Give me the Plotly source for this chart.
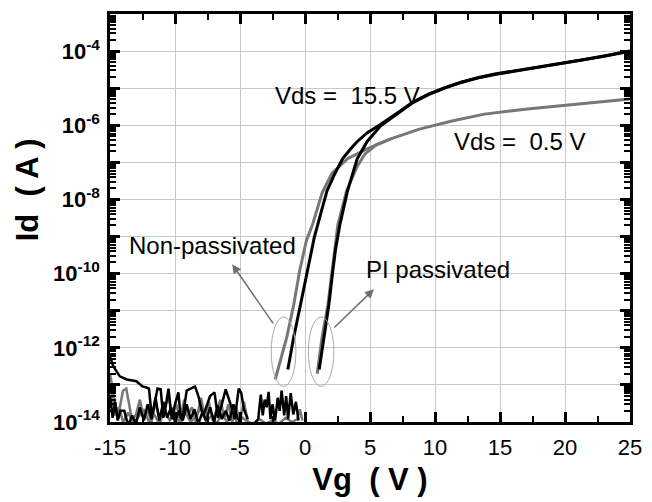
import plotly.graph_objects as go

# ---- transfer curves (Id vs Vg) ----
# Non-passivated device, Vds = 15.5 V
np_hi_vg = [-1.32, -0.86, -0.34, 0.19, 0.71, 1.2, 1.69, 2.3, 2.9, 3.5, 4.0, 4.8, 5.8,
            7.3, 8.3, 9.5, 10.8, 12.0, 13.35, 14.6, 15.8, 17.0, 18.3, 19.8, 21.3, 23.0, 25.0]
np_hi_id = [2.6e-13, 2.0e-12, 1.5e-11, 1.2e-10, 9.3e-10, 4.0e-9, 1.7e-8, 5.0e-8, 1.26e-7,
            2.3e-7, 3.6e-7, 6.3e-7, 1.05e-6, 2.4e-6, 4.2e-6, 6.9e-6, 1.05e-5, 1.45e-5,
            1.95e-5, 2.4e-5, 2.8e-5, 3.4e-5, 4.0e-5, 4.8e-5, 5.75e-5, 7.4e-5, 1.0e-4]

# PI passivated device, Vds = 15.5 V
pi_hi_vg = [1.09, 1.47, 1.84, 2.14, 2.35, 2.67, 3.27, 4.02, 4.77, 5.8,
            7.3, 8.3, 9.5, 10.8, 12.0, 13.35, 14.6, 15.8, 17.0, 18.3, 19.8, 21.3, 23.0, 25.0]
pi_hi_id = [2.6e-13, 2.0e-12, 1.5e-11, 1.2e-10, 4.5e-10, 2.0e-9, 1.7e-8, 1.26e-7, 3.6e-7,
            9.5e-7, 2.3e-6, 4.1e-6, 6.7e-6, 1.02e-5, 1.42e-5, 1.9e-5, 2.35e-5, 2.75e-5,
            3.35e-5, 3.95e-5, 4.75e-5, 5.7e-5, 7.3e-5, 9.9e-5]

# Non-passivated device, Vds = 0.5 V
np_lo_vg = [-2.29, -1.39, -0.86, -0.41, 0.11, 0.56, 1.32, 2.07, 3.27, 4.77, 6.6, 8.8,
            11.3, 13.8, 17.1, 20.9, 25.0]
np_lo_id = [1.4e-13, 2.0e-12, 1.5e-11, 1.2e-10, 7.9e-10, 2.0e-9, 1.5e-8, 5.0e-8, 1.26e-7,
            2.3e-7, 4.3e-7, 7.9e-7, 1.3e-6, 2.0e-6, 2.75e-6, 3.7e-6, 5.1e-6]

# PI passivated device, Vds = 0.5 V
pi_lo_vg = [0.94, 1.32, 1.77, 2.07, 2.3, 2.52, 3.2, 4.02, 4.6, 5.5, 6.6]
pi_lo_id = [2.0e-13, 2.0e-12, 1.5e-11, 1.2e-10, 5.0e-10, 2.0e-9, 1.7e-8, 7.9e-8, 1.66e-7,
            3.0e-7, 4.3e-7]

# ---- off-state noise floor ----
noise_a_vg = [-15.0, -14.75, -14.25, -13.7, -12.97, -12.5, -12.2, -12.0, -11.8, -11.6, -11.35,
              -11.1, -10.9, -10.7, -10.5, -10.25, -10.0, -9.74, -9.55, -9.36, -9.1, -8.8,
              -8.46, -8.2, -7.85, -7.6, -7.3, -6.96, -6.7, -6.5, -6.3, -6.1, -5.75, -5.4,
              -5.1, -4.9, -4.7, -4.4]
noise_a_id = [5.8e-13, 3.2e-13, 1.7e-13, 1.4e-13, 1.26e-13, 9.1e-14, 8.5e-14, 7.9e-14,
              1.5e-14, 2.7e-14, 8.0e-14, 7.6e-14, 1.3e-14, 2.8e-14, 7.9e-14, 1.2e-14,
              3.0e-14, 6.3e-14, 1.2e-14, 1.7e-14, 7.0e-14, 7.9e-14, 9.1e-14, 5.0e-14,
              1.45e-14, 2.5e-14, 5.0e-14, 6.3e-14, 1.3e-14, 2.2e-14, 4.5e-14, 7.6e-14,
              3.2e-14, 1.2e-14, 7.9e-14, 6.0e-14, 2.2e-14, 1.2e-14]

noise_b_vg = [-15.0, -14.8, -14.6, -14.4, -14.2, -13.9, -13.6, -13.3, -13.0, -12.7, -12.4,
              -12.1, -11.8, -11.5, -11.2, -10.9, -10.6, -10.3, -10.0, -9.7, -9.4, -9.1,
              -8.8, -8.5, -8.2, -7.9, -7.6, -7.3, -7.0, -6.7, -6.4, -6.1, -5.8, -5.5, -5.2,
              -4.9, -4.6, -4.3, -4.0, -3.6, -3.4, -3.25, -3.1, -2.95, -2.8, -2.65, -2.5,
              -2.3, -2.1, -1.95, -1.8, -1.6, -1.45, -1.3, -1.1, -0.9, -0.7, -0.5]
noise_b_id = [5.0e-14, 1.3e-14, 3.5e-14, 1.1e-14, 2.0e-14, 2.0e-14, 8.0e-15, 1.5e-14,
              9.0e-15, 2.5e-14, 1.1e-14, 3.0e-14, 1.2e-14, 4.5e-14, 1.1e-14, 3.5e-14,
              1.3e-14, 2.5e-14, 1.0e-14, 2.0e-14, 1.1e-14, 3.0e-14, 1.2e-14, 2.2e-14,
              9.0e-15, 1.8e-14, 1.1e-14, 2.5e-14, 1.0e-14, 2.8e-14, 1.2e-14, 2.0e-14,
              1.1e-14, 3.0e-14, 1.3e-14, 9.0e-15, 8.0e-15, 8.0e-15, 8.0e-15, 1.2e-14,
              5.5e-14, 1.5e-14, 4.0e-14, 2.5e-14, 6.5e-14, 1.2e-14, 3.0e-14, 1.1e-14,
              4.5e-14, 2.0e-14, 7.0e-14, 1.5e-14, 5.0e-14, 1.2e-14, 6.0e-14, 1.6e-14,
              3.5e-14, 1.1e-14]

noise_c_vg = [-15.0, -14.8, -14.6, -14.4, -14.2, -14.0, -13.75, -13.5, -13.3, -13.0, -12.7,
              -12.4, -12.1, -11.8, -11.5, -11.2, -10.9, -10.5, -10.2, -9.9, -9.6, -9.3,
              -9.0, -8.7, -8.4, -8.0, -7.7, -7.4, -7.1, -6.8, -6.5, -6.2, -5.9, -5.6, -5.3,
              -5.0, -4.7, -4.4, -4.1]
noise_c_id = [2.0e-13, 7.9e-14, 2.7e-14, 1.2e-14, 3.0e-14, 7.0e-14, 8.0e-14, 3.0e-14,
              1.1e-14, 1.6e-14, 4.0e-14, 1.2e-14, 2.0e-14, 1.0e-14, 3.5e-14, 1.2e-14,
              2.2e-14, 4.5e-14, 1.5e-14, 3.0e-14, 1.1e-14, 4.0e-14, 1.5e-14, 2.5e-14,
              1.0e-14, 4.5e-14, 1.3e-14, 3.5e-14, 1.1e-14, 2.0e-14, 4.0e-14, 1.2e-14,
              3.0e-14, 1.0e-14, 2.5e-14, 1.1e-14, 3.5e-14, 1.0e-14, 8.0e-15]

noise_d_vg = [-15.0, -14.8, -14.6, -14.3, -14.0, -13.6, -13.2, -12.8, -12.4, -12.0, -11.6,
              -11.2, -10.8, -10.4, -10.0, -9.6, -9.2, -8.8, -8.4, -8.0, -7.6, -7.2, -6.8,
              -6.4, -6.0, -5.6, -5.2, -4.8, -4.4, -4.0, -3.5, -3.0, -2.5, -2.0, -1.5, -1.0,
              -0.6, -0.4, -0.2]
noise_d_id = [1.1e-13, 4.0e-14, 1.5e-14, 2.5e-14, 1.0e-14, 1.8e-14, 9.0e-15, 1.4e-14,
              2.2e-14, 1.0e-14, 1.6e-14, 9.0e-15, 2.0e-14, 1.1e-14, 1.5e-14, 9.0e-15,
              1.8e-14, 1.0e-14, 1.4e-14, 2.4e-14, 1.0e-14, 1.5e-14, 9.0e-15, 1.7e-14,
              1.0e-14, 2.0e-14, 9.0e-15, 1.3e-14, 1.0e-14, 9.0e-15, 1.2e-14, 9.0e-15,
              1.1e-14, 9.0e-15, 1.3e-14, 1.0e-14, 1.2e-14, 2.2e-14, 1.1e-14]

# ---- axis ticks ----
x_ticks = [-15, -10, -5, 0, 5, 10, 15, 20, 25]
x_minor_ticks = [-12.5, -7.5, -2.5, 2.5, 7.5, 12.5, 17.5, 22.5]
y_exps = list(range(-14, -2))
y_label_exps = [-14, -12, -10, -8, -6, -4]
y_minor_factors = [2, 3, 4, 5, 6, 7, 8, 9]

BLACK = "#000000"
GRAY = "#777777"
FONT = "Liberation Sans, Arial, sans-serif"
X_RANGE = [-15, 25]
Y_RANGE = [-14, -3]          # log10 of current

fig = go.Figure()

def add_line(vg, idv, color, width):
    fig.add_trace(go.Scatter(x=vg, y=idv, mode="lines",
                             line=dict(color=color, width=width),
                             showlegend=False, hoverinfo="skip"))

# noise floor first, transfer curves on top
add_line(noise_c_vg, noise_c_id, GRAY, 2.5)
add_line(noise_d_vg, noise_d_id, GRAY, 2.5)
add_line(noise_a_vg, noise_a_id, BLACK, 2.5)
add_line(noise_b_vg, noise_b_id, BLACK, 2.5)
add_line(np_lo_vg, np_lo_id, GRAY, 3)
add_line(pi_lo_vg, pi_lo_id, GRAY, 3)
add_line(np_hi_vg, np_hi_id, BLACK, 3)
add_line(pi_hi_vg, pi_hi_id, BLACK, 3)

y_tickvals = [10.0 ** e for e in y_exps]
y_ticktext = [f"<b>10<sup>{e}</sup></b>" if e in y_label_exps else "" for e in y_exps]
y_minor_vals = [k * 10.0 ** e for e in y_exps[:-1] for k in y_minor_factors]

common = dict(showline=True, linewidth=2.5, linecolor=BLACK, zeroline=False,
              ticks="inside", tickcolor=BLACK, layer="above traces")

fig.update_layout(
    xaxis=dict(range=X_RANGE, tickvals=x_ticks, ticktext=[str(v) for v in x_ticks],
               ticklen=10, tickwidth=3, mirror="allticks",
               showgrid=True, gridcolor="#c8c8c8", gridwidth=1,
               tickfont=dict(family=FONT, size=22, color=BLACK), ticklabelstandoff=4,
               minor=dict(tickvals=x_minor_ticks, ticks="inside", ticklen=6, tickwidth=2,
                          tickcolor=BLACK, showgrid=False),
               title=dict(text="<b>Vg  ( V )</b>", standoff=10,
                          font=dict(family=FONT, size=31, color=BLACK)), **common),
    yaxis=dict(type="log", range=Y_RANGE, tickvals=y_tickvals, ticktext=y_ticktext,
               ticklen=10, tickwidth=3, mirror="allticks",
               showgrid=True, gridcolor="#c8c8c8", gridwidth=1,
               tickfont=dict(family=FONT, size=22, color=BLACK), ticklabelstandoff=3,
               minor=dict(tickvals=y_minor_vals, ticks="inside", ticklen=6, tickwidth=2,
                          tickcolor=BLACK, showgrid=False), **common),
)

# ellipses around the turn-on points
for x0, x1 in [(-2.6, -0.7), (0.26, 2.22)]:
    fig.add_shape(type="circle", xref="x", yref="y", x0=x0, x1=x1, y0=9.1e-14, y1=6.8e-12,
                  line=dict(color="#aaaaaa", width=1))

# arrows from the ellipses to the labels (annotation y uses log10 on log axes)
for hx, hy, tx_, ty_ in [(-5.6, -9.75, -2.37, -11.38), (5.3, -10.42, 2.14, -11.49)]:
    fig.add_annotation(x=hx, y=hy, ax=tx_, ay=ty_, xref="x", yref="y", axref="x", ayref="y",
                       text="", showarrow=True, arrowhead=2, arrowsize=1.2, arrowwidth=1.5,
                       arrowcolor="#6e6e6e")

labels = [("Non-passivated", -7.1, -9.25), ("PI passivated", 10.2, -9.89),
          ("Vds =  15.5 V", 3.3, -5.21), ("Vds =  0.5 V", 16.5, -6.44)]
for text, lx, ly in labels:
    fig.add_annotation(x=lx, y=ly, xref="x", yref="y", text=text, showarrow=False,
                       font=dict(family=FONT, size=24, color=BLACK))

# y-axis title, set above the plot centre
fig.add_annotation(x=-0.158, y=0.57, xref="paper", yref="paper", text="<b>Id  ( A )</b>",
                   showarrow=False, textangle=-90, xanchor="center", yanchor="middle",
                   font=dict(family=FONT, size=31, color=BLACK))

fig.update_layout(width=652, height=502, margin=dict(l=110, r=10, t=14, b=76),
                  paper_bgcolor="white", plot_bgcolor="white", showlegend=False)

fig.write_html("out.html")
